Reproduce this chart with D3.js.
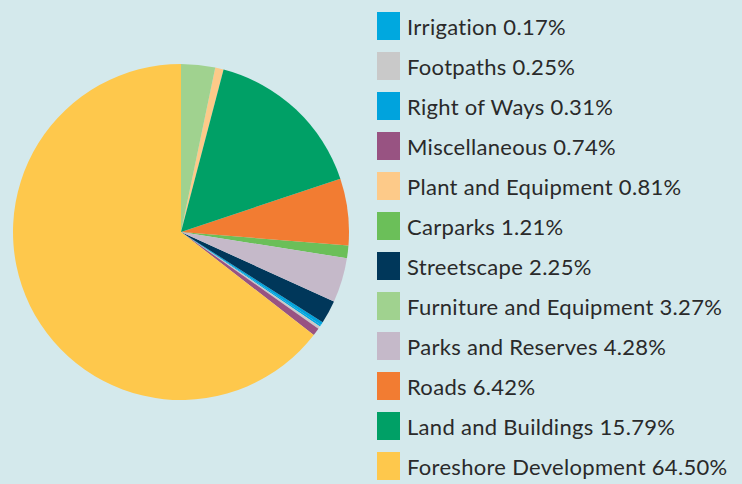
<!DOCTYPE html>
<html>
<head>
<meta charset="utf-8">
<script src="https://cdn.jsdelivr.net/npm/d3@7"></script>
<style>
  html, body { margin: 0; padding: 0; background: #d4e9ec; }
  svg { display: block; }
</style>
</head>
<body>
<div id="chart"></div>
<script>
// legend order (top to bottom)
const categories = ["Irrigation", "Footpaths", "Right of Ways", "Miscellaneous", "Plant and Equipment",
  "Carparks", "Streetscape", "Furniture and Equipment", "Parks and Reserves", "Roads",
  "Land and Buildings", "Foreshore Development"];
const values = [0.17, 0.25, 0.31, 0.74, 0.81, 1.21, 2.25, 3.27, 4.28, 6.42, 15.79, 64.50];
const colors = ["#00a8df", "#c9c9c9", "#00a3dd", "#985382", "#fdca89", "#6bbf59", "#00375a",
  "#a0d28f", "#c5b9c9", "#f27c32", "#00a066", "#fec84c"];
// order of slices clockwise from 12 o'clock
const sliceOrder = ["Furniture and Equipment", "Plant and Equipment", "Land and Buildings", "Roads",
  "Carparks", "Parks and Reserves", "Streetscape", "Right of Ways", "Irrigation", "Footpaths",
  "Miscellaneous", "Foreshore Development"];

const width = 742, height = 484;
const data = categories.map((c, i) => ({ name: c, value: values[i], color: colors[i] }));

const svg = d3.select("#chart").append("svg")
    .attr("width", width)
    .attr("height", height);

svg.append("rect").attr("width", width).attr("height", height).attr("fill", "#d4e9ec");

const pie = d3.pie()
    .value(d => d.value)
    .sort((a, b) => sliceOrder.indexOf(a.name) - sliceOrder.indexOf(b.name));

const arc = d3.arc().innerRadius(0).outerRadius(168);

svg.append("g")
    .attr("transform", "translate(181,232)")
    .selectAll("path")
    .data(pie(data))
    .join("path")
    .attr("d", arc)
    .attr("fill", d => d.data.color);

// legend
const y = d3.scaleBand().domain(categories).range([12, 492]).paddingInner(0);

const legend = svg.append("g")
    .selectAll("g")
    .data(data)
    .join("g")
    .attr("transform", d => `translate(377,${y(d.name)})`);

legend.append("rect")
    .attr("width", 23)
    .attr("height", 28)
    .attr("fill", d => d.color);

legend.append("text")
    .attr("x", 30)
    .attr("y", 22.5)
    .attr("fill", "#2a2a2a")
    .style("font-family", "Lato, 'Open Sans', sans-serif")
    .style("font-size", "22px")
    .style("letter-spacing", "0.3px")
    .text(d => `${d.name} ${d.value.toFixed(2)}%`);
</script>
</body>
</html>
